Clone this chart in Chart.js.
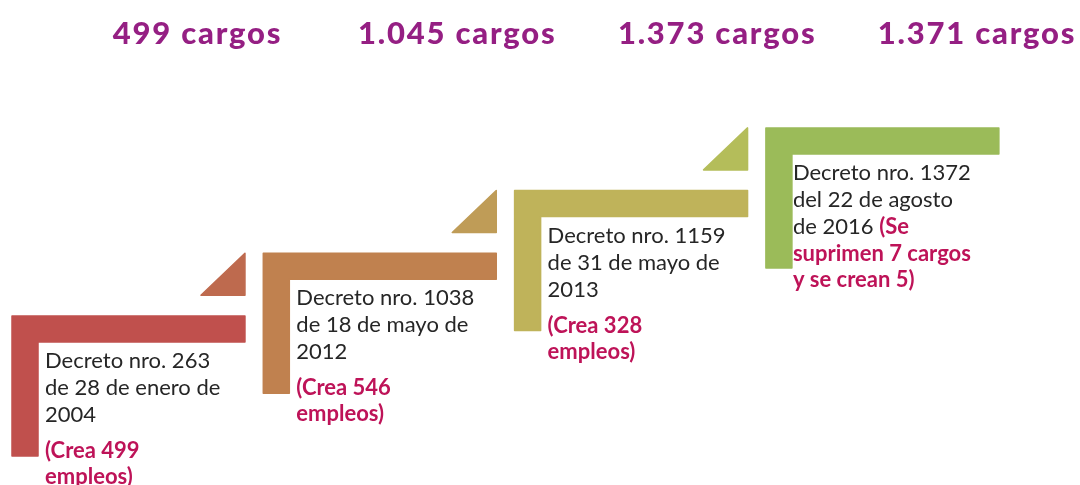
<!DOCTYPE html>
<html><head><meta charset="utf-8">
<script src="https://cdn.jsdelivr.net/npm/chart.js@4/dist/chart.umd.min.js"></script>
<style>html,body{margin:0;padding:0;background:#fff;}#wrap{width:1080px;height:485px;position:relative;}</style>
</head><body><div id="wrap"><canvas id="c" width="1080" height="485"></canvas></div>
<script>
// ---- data ----
const anios = ['2004', '2012', '2013', '2016'];
const cargos = [499, 1045, 1373, 1371];
const decretoLineas = [
  ['Decreto nro. 263', 'de 28 de enero de', '2004'],
  ['Decreto nro. 1038', 'de 18 de mayo de', '2012'],
  ['Decreto nro. 1159', 'de 31 de mayo de', '2013'],
  ['Decreto nro. 1372', 'del 22 de agosto', 'de 2016 ']
];
const notaLineas = [
  ['(Crea 499', 'empleos)'],
  ['(Crea 546', 'empleos)'],
  ['(Crea 328', 'empleos)'],
  ['(Se', 'suprimen 7 cargos', 'y se crean 5)']
];
const notaEnLinea = [false, false, false, true];
const coloresPaso = ['#C0504D', '#C0814F', '#BFB35A', '#9BBB59'];
const coloresFlecha = ['#BE6A4E', '#BF9C57', '#B4BD5A'];

// ---- geometry (in step units) ----
const HBAR_W = 0.927, HBAR_H = 0.415, VBAR_W = 0.1035, VBAR_L = 2.233;
const TRI_W = 0.175, TRI_BOT = 0.33;

function fmt(n){ const s = String(n); return s.length > 3 ? s.slice(0, s.length-3) + '.' + s.slice(-3) : s; }

const datasets = [];
anios.forEach((a, i) => {
  datasets.push({
    label: a,
    data: [
      {x: i, y: i}, {x: i + HBAR_W, y: i}, {x: i + HBAR_W, y: i - HBAR_H},
      {x: i + VBAR_W, y: i - HBAR_H}, {x: i + VBAR_W, y: i - VBAR_L}, {x: i, y: i - VBAR_L}
    ],
    backgroundColor: coloresPaso[i], borderColor: coloresPaso[i],
    showLine: false, pointRadius: 0, pointHoverRadius: 0
  });
});
coloresFlecha.forEach((c, i) => {
  datasets.push({
    label: 'flecha' + i,
    data: [{x: i + HBAR_W, y: i + 1}, {x: i + HBAR_W, y: i + TRI_BOT}, {x: i + HBAR_W - TRI_W, y: i + TRI_BOT}],
    backgroundColor: c, borderColor: c,
    showLine: false, pointRadius: 0, pointHoverRadius: 0
  });
});

const polyFill = {
  id: 'polyFill',
  beforeDatasetsDraw(chart) {
    const ctx = chart.ctx;
    chart.data.datasets.forEach((ds, i) => {
      const meta = chart.getDatasetMeta(i);
      ctx.save();
      ctx.beginPath();
      meta.data.forEach((p, j) => j ? ctx.lineTo(p.x, p.y) : ctx.moveTo(p.x, p.y));
      ctx.closePath();
      ctx.fillStyle = ds.backgroundColor;
      ctx.fill();
      ctx.lineJoin = 'round';
      ctx.lineWidth = 1.5;
      ctx.strokeStyle = ds.backgroundColor;
      ctx.stroke();
      ctx.restore();
    });
  }
};

const textos = {
  id: 'textos',
  afterDatasetsDraw(chart) {
    const ctx = chart.ctx, xs = chart.scales.x, ys = chart.scales.y;
    ctx.save();
    // titles
    ctx.font = '900 31px Lato';
    if ('letterSpacing' in ctx) ctx.letterSpacing = '1.8px';
    ctx.fillStyle = '#951F83';
    ctx.textAlign = 'center';
    ctx.textBaseline = 'alphabetic';
    cargos.forEach((v, i) => {
      const cx = xs.getPixelForValue(0.738 + i * 1.034);
      ctx.fillText(fmt(v) + ' cargos', cx, 44);
    });
    if ('letterSpacing' in ctx) ctx.letterSpacing = '0px';
    ctx.textAlign = 'left';
    const normal = '22px Lato', bold = 'bold 22px Lato';
    anios.forEach((a, i) => {
      const x0 = xs.getPixelForValue(i + VBAR_W) + (i === 3 ? 1 : 7);
      let y = ys.getPixelForValue(i) + 52;
      const lines = decretoLineas[i];
      lines.forEach((t, k) => {
        ctx.font = normal; ctx.fillStyle = '#262626';
        ctx.fillText(t, x0, y);
        if (k === lines.length - 1 && notaEnLinea[i]) {
          const w = ctx.measureText(t).width;
          ctx.font = bold; ctx.fillStyle = '#BE1358';
          ctx.fillText(notaLineas[i][0], x0 + w, y);
        }
        if (k < lines.length - 1) y += 27;
      });
      const notas = notaEnLinea[i] ? notaLineas[i].slice(1) : notaLineas[i];
      y += notaEnLinea[i] ? 27 : 36;
      ctx.font = bold; ctx.fillStyle = '#BE1358';
      notas.forEach((t) => { ctx.fillText(t, x0, y); y += 26; });
    });
    ctx.restore();
  }
};

const PX_X = 251.3, X0 = 12, PX_Y = 62.7, Y0 = 316;
new Chart(document.getElementById('c'), {
  type: 'scatter',
  data: { datasets },
  options: {
    responsive: false, animation: false,
    layout: { padding: 0 },
    plugins: { legend: { display: false }, tooltip: { enabled: false }, title: { display: false } },
    events: [],
    scales: {
      x: { type: 'linear', display: false, min: -X0 / PX_X, max: (1080 - X0) / PX_X },
      y: { type: 'linear', display: false, min: -(485 - Y0) / PX_Y, max: Y0 / PX_Y }
    }
  },
  plugins: [polyFill, textos]
});
</script></body></html>
